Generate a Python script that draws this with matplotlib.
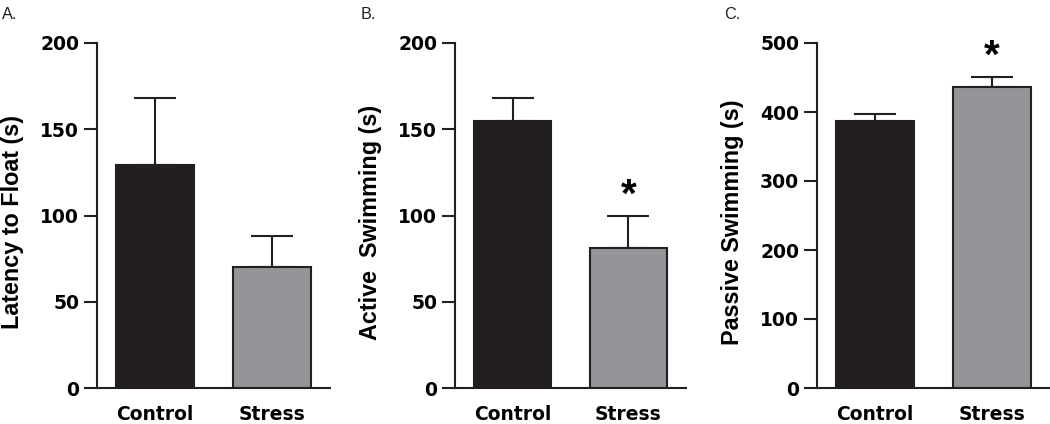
import matplotlib
matplotlib.use("Agg")
import matplotlib.pyplot as plt
import numpy as np

categories = ["Control", "Stress"]

latency_mean = [129, 70]
latency_sem = [39, 18]

active_mean = [155, 81]
active_sem = [13, 19]

passive_mean = [387, 436]
passive_sem = [10, 15]

panel_letters = ["A.", "B.", "C."]
ylabels = ["Latency to Float (s)", "Active  Swimming (s)", "Passive Swimming (s)"]
ylims = [200, 200, 500]
yticks = [[0, 50, 100, 150, 200], [0, 50, 100, 150, 200], [0, 100, 200, 300, 400, 500]]
significant = [[False, False], [False, True], [False, True]]

bar_colors = ["#231f20", "#939598"]
dark = "#231f20"

W, H = 1050, 424
fig = plt.figure(figsize=(W / 100, H / 100), dpi=100)

lw = 1.5
ax_lefts = [97, 455, 817]
ax_widths = [233, 231, 233]
ax_top, ax_bot = 43, 388
label_x = [13, 370, 733]
letter_x = [2, 361, 724]

means = [latency_mean, active_mean, passive_mean]
sems = [latency_sem, active_sem, passive_sem]

for i in range(3):
    ax = fig.add_axes([ax_lefts[i] / W, (H - ax_bot) / H, ax_widths[i] / W, (ax_bot - ax_top) / H])
    x = np.arange(len(categories))
    ax.bar(x, means[i], width=0.67, color=bar_colors, edgecolor=dark, linewidth=lw, zorder=2)
    ax.errorbar(x, means[i], yerr=[np.zeros(len(x)), sems[i]], fmt="none", ecolor=dark,
                elinewidth=lw, capsize=15, capthick=lw, zorder=1)
    for j in range(len(x)):
        if significant[i][j]:
            ax.annotate("*", xy=(x[j], means[i][j] + sems[i][j]), xytext=(0, 9),
                        textcoords="offset pixels", ha="center", va="baseline",
                        fontsize=29, fontweight="bold", family="Liberation Sans", color="black",
                        annotation_clip=False)
    ax.set_xlim(-0.5, 1.5)
    ax.set_ylim(0, ylims[i])
    ax.set_yticks(yticks[i])
    ax.set_xticks(x)
    ax.set_xticklabels(categories)
    for s in ["top", "right"]:
        ax.spines[s].set_visible(False)
    for s in ["left", "bottom"]:
        ax.spines[s].set_linewidth(lw)
        ax.spines[s].set_color(dark)
    ax.tick_params(axis="y", length=9.4, width=lw, color=dark, pad=3.5)
    ax.tick_params(axis="x", length=0, pad=12)
    for lab in ax.get_yticklabels() + ax.get_xticklabels():
        lab.set_fontfamily("DejaVu Sans")
        lab.set_fontweight("bold")
        lab.set_fontsize(13.5)
        lab.set_color("black")
    fig.text(label_x[i] / W, (H - 222) / H, ylabels[i], rotation=90, ha="center", va="center",
             fontsize=16.8, fontweight="bold", family="Liberation Sans", color="black")
    fig.text(letter_x[i] / W, (H - 19) / H, panel_letters[i], ha="left", va="baseline",
             fontsize=11.7, family="Liberation Sans", color="#231f20")

fig.savefig("out.png", dpi=100)
